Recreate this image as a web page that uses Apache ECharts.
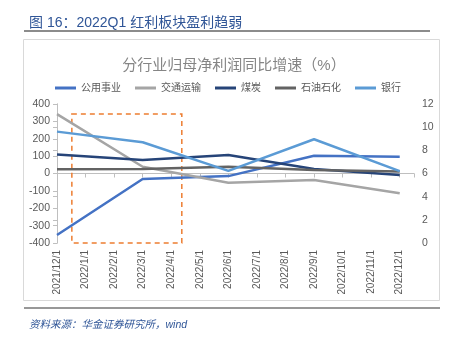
<!DOCTYPE html>
<html>
<head>
<meta charset="utf-8">
<script src="https://cdn.jsdelivr.net/npm/echarts@6/dist/echarts.min.js"></script>
<style>
  html, body { margin: 0; padding: 0; background: #fff; }
  #chart { width: 456px; height: 346px; }
</style>
</head>
<body>
<div id="chart"></div>
<script>
// Month labels along the x axis
const categories = ['2021/12/1', '2022/1/1', '2022/2/1', '2022/3/1', '2022/4/1', '2022/5/1',
  '2022/6/1', '2022/7/1', '2022/8/1', '2022/9/1', '2022/10/1', '2022/11/1', '2022/12/1'];

// Quarterly observations: index into categories
const obsIndex = [0, 3, 6, 9, 12];

// Year-on-year growth of net profit attributable to parent (%)
const utilities = [-354, -32, -15, 102, 97];
const transport = [342, 39, -53, -37, -114];
const coal = [110, 78, 106, 26, -8];
const petro = [24, 26, 39, 20, 12];
const banks = [241, 180, 15, 197, 14];

const seriesNames = ['公用事业', '交通运输', '煤炭', '石油石化', '银行'];
const seriesColors = ['#4472C4', '#A5A5A5', '#264478', '#636363', '#5B9BD5'];
const seriesValues = [utilities, transport, coal, petro, banks];

// Left and right axis ticks
const leftTicks = { min: -400, max: 400, interval: 100 };
const rightTicks = { min: 0, max: 12, interval: 2 };

// Highlighted Q1 window (x in month index, y in left-axis units)
const highlightX = [0.52, 4.37];
const highlightY = [342, -400];

const FONT = '"Liberation Sans", "Noto Sans CJK SC", sans-serif';
const AXIS_GREY = '#BFBFBF';
const LABEL_GREY = '#595959';

const series = seriesValues.map((vals, k) => ({
  name: seriesNames[k],
  type: 'line',
  xAxisIndex: 0,
  yAxisIndex: 0,
  data: vals.map((v, i) => [obsIndex[i], v]),
  symbol: 'none',
  lineStyle: { width: 2.5, color: seriesColors[k] },
  itemStyle: { color: seriesColors[k] },
  z: 3
}));

series[0].markArea = {
  silent: true,
  itemStyle: {
    color: 'rgba(0,0,0,0)',
    borderColor: '#ED7D31',
    borderWidth: 1.5,
    borderType: [5, 4]
  },
  data: [[
    { xAxis: highlightX[0], yAxis: highlightY[0] },
    { xAxis: highlightX[1], yAxis: highlightY[1] }
  ]]
};

const xBase = {
  type: 'value',
  min: 0,
  max: 12.5,
  interval: 1,
  splitLine: { show: false }
};

const option = {
  animation: false,
  textStyle: { fontFamily: FONT },
  title: [
    {
      text: '图 16：2022Q1 红利板块盈利趋弱',
      left: 24, top: 11,
      textStyle: { fontSize: 14, fontWeight: 'normal', color: '#2F5597', fontFamily: FONT }
    },
    {
      text: '分行业归母净利润同比增速（%）',
      left: 229, top: 53, textAlign: 'center',
      textStyle: { fontSize: 15, fontWeight: 'normal', color: '#858585', fontFamily: FONT }
    },
    {
      text: '资料来源：华金证券研究所，wind',
      left: 24, top: 315,
      textStyle: { fontSize: 10.5, fontWeight: 'normal', fontStyle: 'italic', color: '#2F5597', fontFamily: FONT }
    }
  ],
  graphic: [
    { type: 'line', shape: { x1: 24, y1: 31, x2: 430, y2: 31 }, style: { stroke: '#8C8C8C', lineWidth: 2 } },
    { type: 'rect', shape: { x: 23.5, y: 39.5, width: 416, height: 261 }, style: { fill: 'none', stroke: '#D9D9D9', lineWidth: 1 } },
    { type: 'line', shape: { x1: 24, y1: 308, x2: 440, y2: 308 }, style: { stroke: '#333333', lineWidth: 1.2 } }
  ],
  legend: {
    top: 78,
    left: 'center',
    icon: 'rect',
    itemWidth: 21,
    itemHeight: 3,
    itemGap: 14,
    data: seriesNames,
    textStyle: { fontSize: 10, color: LABEL_GREY, fontFamily: FONT }
  },
  grid: { left: 57, right: 42, top: 104, bottom: 103, containLabel: false },
  xAxis: [
    Object.assign({}, xBase, {
      position: 'bottom',
      axisLine: { show: true, onZero: true, lineStyle: { color: AXIS_GREY, width: 1 } },
      axisTick: { show: true, length: 4, lineStyle: { color: AXIS_GREY } },
      axisLabel: { show: false }
    }),
    Object.assign({}, xBase, {
      position: 'bottom',
      axisLine: { show: false, onZero: false },
      axisTick: { show: false },
      axisLabel: {
        show: true,
        rotate: 90,
        margin: 7,
        fontSize: 10,
        color: LABEL_GREY,
        fontFamily: FONT,
        showMaxLabel: false,
        formatter: v => (Number.isInteger(v) && categories[v]) ? categories[v] : ''
      }
    })
  ],
  yAxis: [
    {
      type: 'value',
      position: 'left',
      min: leftTicks.min, max: leftTicks.max, interval: leftTicks.interval,
      splitLine: { show: false },
      axisLine: { show: true, lineStyle: { color: AXIS_GREY } },
      axisTick: { show: true, length: 4, lineStyle: { color: AXIS_GREY } },
      axisLabel: { fontSize: 10.5, color: LABEL_GREY, margin: 7, fontFamily: FONT }
    },
    {
      type: 'value',
      position: 'right',
      min: rightTicks.min, max: rightTicks.max, interval: rightTicks.interval,
      splitLine: { show: false },
      axisLine: { show: true, lineStyle: { color: AXIS_GREY } },
      axisTick: { show: true, length: 4, inside: true, lineStyle: { color: AXIS_GREY } },
      axisLabel: { fontSize: 10.5, color: LABEL_GREY, margin: 8, fontFamily: FONT }
    }
  ],
  series: series
};

const chart = echarts.init(document.getElementById('chart'), null, { renderer: 'canvas' });
chart.setOption(option);
</script>
</body>
</html>
